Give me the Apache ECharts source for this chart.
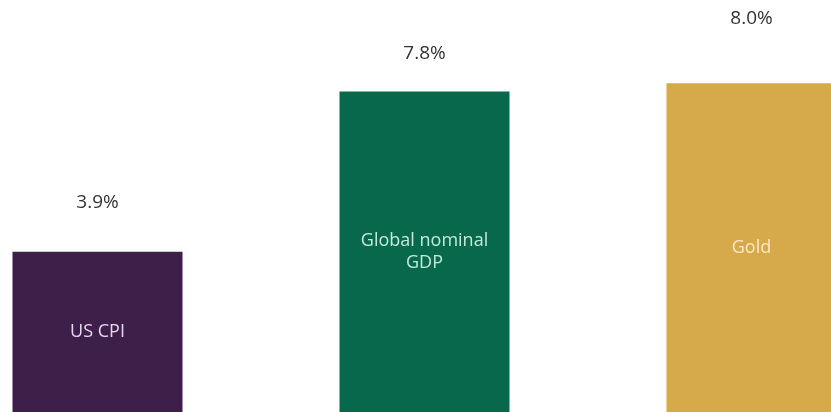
<!DOCTYPE html>
<html>
<head>
<meta charset="utf-8">
<script src="https://cdn.jsdelivr.net/npm/echarts@6/dist/echarts.min.js"></script>
<style>
html,body{margin:0;padding:0;background:#fff;}
#chart{width:831px;height:412px;}
</style>
</head>
<body>
<div id="chart"></div>
<script>
const categories = ['US CPI', 'Global nominal\nGDP', 'Gold'];
const values = [3.9, 7.8, 8.0];
const valueLabels = ['3.9%', '7.8%', '8.0%'];

const barColors = ['#3d1f4a', '#07684c', '#d6aa4b'];
const innerTextColors = ['#e6d6f0', '#c4ead9', '#fbe9c2'];
const topGap = [40, 28, 55];

const chart = echarts.init(document.getElementById('chart'));

const barData = values.map((v, i) => ({
  value: v,
  itemStyle: { color: barColors[i] },
  label: { color: innerTextColors[i] }
}));
const topData = values.map((v, i) => ({
  value: v,
  label: { distance: topGap[i] }
}));

chart.setOption({
  animation: false,
  backgroundColor: '#ffffff',
  grid: { left: -66, right: -84, top: 1, bottom: 0, containLabel: false, outerBoundsMode: 'none' },
  xAxis: {
    type: 'category',
    data: categories,
    show: false
  },
  yAxis: {
    type: 'value',
    min: 0,
    max: 10,
    show: false
  },
  series: [
    {
      type: 'bar',
      data: barData,
      barWidth: 170,
      label: {
        show: true,
        position: 'inside',
        formatter: p => categories[p.dataIndex],
        fontFamily: 'Open Sans',
        fontSize: 18,
        lineHeight: 22
      }
    },
    {
      type: 'bar',
      data: topData,
      barWidth: 170,
      barGap: '-100%',
      itemStyle: { color: 'rgba(0,0,0,0)' },
      silent: true,
      label: {
        show: true,
        position: 'top',
        formatter: p => valueLabels[p.dataIndex],
        fontFamily: 'Open Sans',
        fontSize: 19,
        color: '#333333'
      }
    }
  ]
});
</script>
</body>
</html>
